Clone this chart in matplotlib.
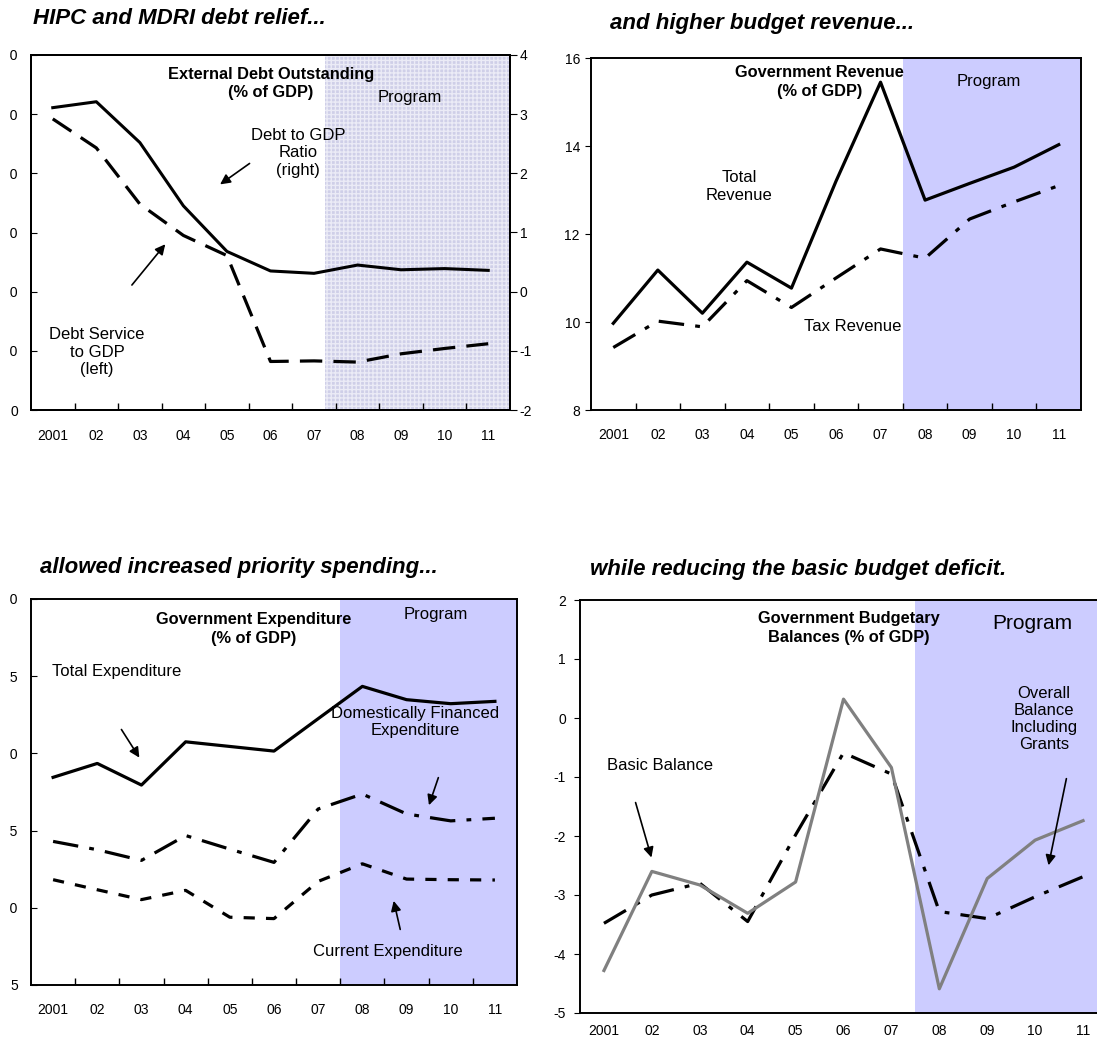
import matplotlib
matplotlib.use("Agg")
import matplotlib.pyplot as plt
from matplotlib.transforms import Bbox
import numpy as np

plt.rcParams['font.family'] = ['Liberation Sans', 'DejaVu Sans']

years = ["2001", "02", "03", "04", "05", "06", "07", "08", "09", "10", "11"]

# External debt panel
debt_service = [49.2, 44.3, 34.8, 29.5, 26.1, 8.2, 8.3, 8.1, 9.5, 10.4, 11.2]     # left axis
debt_to_gdp = [3.11, 3.21, 2.52, 1.45, 0.68, 0.35, 0.31, 0.45, 0.37, 0.39, 0.36]   # right axis
debt_left_ticks = [0, 10, 20, 30, 40, 50, 60]
debt_right_ticks = [-2, -1, 0, 1, 2, 3, 4]

# Revenue panel
total_revenue = [9.97, 11.18, 10.20, 11.36, 10.77, 13.2, 15.45, 12.77, 13.15, 13.52, 14.03]
tax_revenue = [9.42, 10.02, 9.89, 10.94, 10.33, 11.0, 11.66, 11.45, 12.34, 12.73, 13.1]
revenue_ticks = [8, 10, 12, 14, 16]

# Expenditure panel
total_expenditure = [18.45, 19.35, 17.95, 20.75, 20.45, 20.15, 22.25, 24.34, 23.48, 23.22, 23.37]
domestic_expenditure = [14.3, 13.76, 13.07, 14.68, 13.8, 12.94, 16.4, 17.37, 16.08, 15.63, 15.8]
current_expenditure = [11.82, 11.17, 10.53, 11.13, 9.39, 9.3, 11.71, 12.85, 11.86, 11.82, 11.8]
expenditure_ticks = [5, 10, 15, 20, 25, 30]

# Budget balance panel
basic_balance = [-4.28, -2.60, -2.83, -3.31, -2.78, 0.32, -0.84, -4.59, -2.72, -2.07, -1.74]
overall_balance = [-3.48, -3.0, -2.80, -3.45, -1.98, -0.59, -0.95, -3.28, -3.40, -3.03, -2.69]
balance_ticks = [-5, -4, -3, -2, -1, 0, 1, 2]

W, H = 1097, 1042
fig = plt.figure(figsize=(W / 100, H / 100), dpi=100)

BLACK = "black"
PROG = "#ccccff"
NOTE = 12
x = np.arange(len(years))


def px_axes(left, top, right, bottom):
    return fig.add_axes([left / W, 1 - bottom / H, (right - left) / W, (bottom - top) / H])


def setup_x(ax, pad, ticks_on=True):
    ax.set_xlim(-0.5, 10.5)
    ax.set_xticks(np.arange(0.5, 10, 1.0))
    ax.set_xticklabels([])
    ax.set_xticks(x, minor=True)
    ax.set_xticklabels(years, minor=True, fontsize=10)
    ax.tick_params(axis='x', which='major', direction='in', length=5 if ticks_on else 0, width=1)
    ax.tick_params(axis='x', which='minor', length=0, pad=pad)


def frame(ax):
    for s in ax.spines.values():
        s.set_linewidth(1.4)
        s.set_color(BLACK)


# the left-hand value labels of the two left panels show only their last digit
left_clip = Bbox([[9.5, 0], [W, H]])


def clip_left_labels(ax):
    for lab in ax.get_yticklabels():
        lab.set_clip_on(True)
        lab.set_clip_box(left_clip)


def arrow(ax, tail, head):
    ax.annotate("", xy=head, xytext=tail, xycoords='axes fraction',
                arrowprops=dict(arrowstyle='-|>', color=BLACK, lw=1.2, mutation_scale=15))


# ---------------- Top left: external debt ----------------
ax1 = px_axes(31, 55, 510, 410)
ax1.axvspan(6.25, 10.5, facecolor="#cfcfe8", edgecolor="#ebebf6", hatch="++++",
            linewidth=0, zorder=0)
ax1.plot(x, debt_service, color=BLACK, lw=2.3, dashes=(7, 3.5), solid_capstyle='butt')
ax1.set_ylim(0, 60)
ax1.set_yticks(debt_left_ticks)
ax1.set_yticklabels([str(v) for v in debt_left_ticks], fontsize=10)
ax1.tick_params(axis='y', direction='in', length=4, pad=9.5)
setup_x(ax1, pad=14)
frame(ax1)
clip_left_labels(ax1)

ax1r = ax1.twinx()
ax1r.plot(x, debt_to_gdp, color=BLACK, lw=2.2)
ax1r.set_ylim(-2, 4)
ax1r.set_yticks(debt_right_ticks)
ax1r.set_yticklabels([str(v) for v in debt_right_ticks], fontsize=10)
ax1r.tick_params(axis='y', direction='out', length=5, pad=2)
ax1r.set_xlim(-0.5, 10.5)
frame(ax1r)

ax1.text(0.501, 0.920, "External Debt Outstanding\n(% of GDP)", transform=ax1.transAxes,
         ha='center', va='center', fontsize=11.8, fontweight='bold', linespacing=1.3)
ax1.text(0.791, 0.879, "Program", transform=ax1.transAxes, ha='center', va='center', fontsize=NOTE)
ax1.text(0.557, 0.724, "Debt to GDP\nRatio\n(right)", transform=ax1.transAxes,
         ha='center', va='center', fontsize=NOTE, linespacing=1.2)
ax1.text(0.138, 0.163, "Debt Service\nto GDP\n(left)", transform=ax1.transAxes,
         ha='center', va='center', fontsize=NOTE, linespacing=1.2)
arrow(ax1r, (0.461, 0.699), (0.390, 0.631))
arrow(ax1r, (0.207, 0.346), (0.284, 0.473))

# ---------------- Top right: revenue ----------------
ax2 = px_axes(591, 58, 1081, 410)
ax2.axvspan(6.5, 10.5, facecolor=PROG, edgecolor='none', zorder=0)
ax2.plot(x, total_revenue, color=BLACK, lw=2.3)
ax2.plot(x, tax_revenue, color=BLACK, lw=2.3, dashes=(8, 3.5, 1.5, 3.5))
ax2.set_ylim(8, 16)
ax2.set_yticks(revenue_ticks)
ax2.set_yticklabels([str(v) for v in revenue_ticks], fontsize=10)
ax2.tick_params(axis='y', direction='out', length=4, pad=4)
setup_x(ax2, pad=13)
frame(ax2)
ax2.text(0.467, 0.932, "Government Revenue\n(% of GDP)", transform=ax2.transAxes,
         ha='center', va='center', fontsize=11.8, fontweight='bold', linespacing=1.3)
ax2.text(0.812, 0.932, "Program", transform=ax2.transAxes, ha='center', va='center', fontsize=NOTE)
ax2.text(0.302, 0.635, "Total\nRevenue", transform=ax2.transAxes, ha='center', va='center',
         fontsize=NOTE, linespacing=1.2)
ax2.text(0.535, 0.236, "Tax Revenue", transform=ax2.transAxes, ha='center', va='center',
         fontsize=NOTE)

# ---------------- Bottom left: expenditure ----------------
ax3 = px_axes(31, 599, 517, 985)
ax3.axvspan(6.5, 10.5, facecolor=PROG, edgecolor='none', zorder=0)
ax3.plot(x, total_expenditure, color=BLACK, lw=2.3)
ax3.plot(x, domestic_expenditure, color=BLACK, lw=2.3, dashes=(8, 3.5, 1.5, 3.5))
ax3.plot(x, current_expenditure, color=BLACK, lw=2.3, dashes=(3.5, 3.5))
ax3.set_ylim(5, 30)
ax3.set_yticks(expenditure_ticks)
ax3.set_yticklabels([str(v) for v in expenditure_ticks], fontsize=10)
ax3.tick_params(axis='y', direction='in', length=4, pad=9.5)
setup_x(ax3, pad=13)
frame(ax3)
clip_left_labels(ax3)
ax3.text(0.459, 0.922, "Government Expenditure\n(% of GDP)", transform=ax3.transAxes,
         ha='center', va='center', fontsize=11.8, fontweight='bold', linespacing=1.3)
ax3.text(0.833, 0.961, "Program", transform=ax3.transAxes, ha='center', va='center', fontsize=NOTE)
ax3.text(0.043, 0.813, "Total Expenditure", transform=ax3.transAxes, ha='left', va='center',
         fontsize=NOTE)
ax3.text(0.790, 0.681, "Domestically Financed\nExpenditure", transform=ax3.transAxes,
         ha='center', va='center', fontsize=NOTE, linespacing=1.2)
ax3.text(0.735, 0.088, "Current Expenditure", transform=ax3.transAxes, ha='center',
         va='center', fontsize=NOTE)
arrow(ax3, (0.183, 0.668), (0.226, 0.583))
arrow(ax3, (0.840, 0.544), (0.817, 0.459))
arrow(ax3, (0.761, 0.137), (0.745, 0.225))

# ---------------- Bottom right: budget balances ----------------
ax4 = px_axes(580, 600, 1107, 1013)
ax4.axvspan(6.5, 10.5, facecolor=PROG, edgecolor='none', zorder=0)
ax4.plot(x, overall_balance, color=BLACK, lw=2.3, dashes=(8, 3.5, 1.5, 3.5))
ax4.plot(x, basic_balance, color="#808080", lw=2.3)
ax4.set_ylim(-5, 2)
ax4.set_yticks(balance_ticks)
ax4.set_yticklabels([str(v) for v in balance_ticks], fontsize=10)
ax4.tick_params(axis='y', direction='out', length=4, pad=6)
setup_x(ax4, pad=8, ticks_on=False)
frame(ax4)
ax4.text(0.510, 0.932, "Government Budgetary\nBalances (% of GDP)", transform=ax4.transAxes,
         ha='center', va='center', fontsize=11.8, fontweight='bold', linespacing=1.3)
ax4.text(0.858, 0.944, "Program", transform=ax4.transAxes, ha='center', va='center', fontsize=15)
ax4.text(0.880, 0.712, "Overall\nBalance\nIncluding\nGrants", transform=ax4.transAxes,
         ha='center', va='center', fontsize=NOTE, linespacing=1.15)
ax4.text(0.152, 0.600, "Basic Balance", transform=ax4.transAxes, ha='center', va='center',
         fontsize=NOTE)
arrow(ax4, (0.104, 0.516), (0.137, 0.370))
arrow(ax4, (0.924, 0.574), (0.888, 0.351))

# ---------------- Panel headings ----------------
head_kw = dict(fontsize=16, fontweight='bold', fontstyle='italic', va='center', ha='left')
fig.text(33 / W, 1 - 19 / H, "HIPC and MDRI debt relief...", **head_kw)
fig.text(610 / W, 1 - 23 / H, "and higher budget revenue...", **head_kw)
fig.text(40 / W, 1 - 567 / H, "allowed increased priority spending...", **head_kw)
fig.text(590 / W, 1 - 570 / H, "while reducing the basic budget deficit.", **head_kw)

fig.savefig("out.png", dpi=100)
